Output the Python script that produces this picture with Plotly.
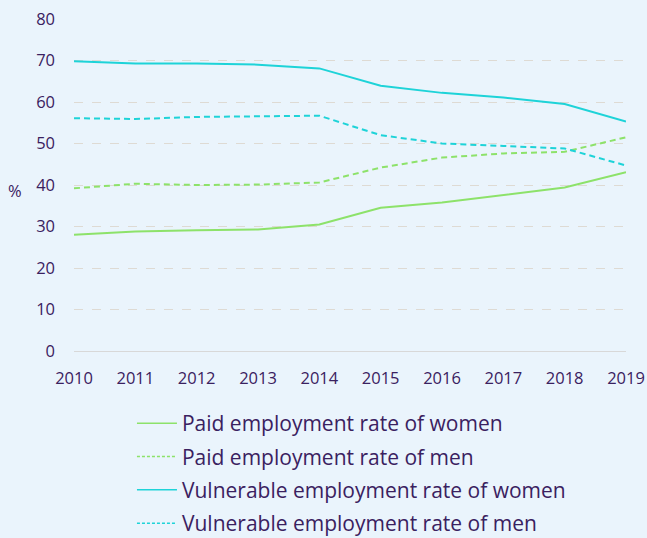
import plotly.graph_objects as go

years = [2010, 2011, 2012, 2013, 2014, 2015, 2016, 2017, 2018, 2019]
paid_women = [28.0, 28.8, 29.1, 29.3, 30.5, 34.5, 35.8, 37.6, 39.4, 43.1]
paid_men = [39.2, 40.3, 40.0, 40.1, 40.6, 44.2, 46.6, 47.6, 48.0, 51.5]
vuln_women = [69.8, 69.3, 69.3, 69.0, 68.1, 63.9, 62.2, 61.1, 59.5, 55.3]
vuln_men = [56.1, 55.9, 56.4, 56.6, 56.7, 52.0, 50.0, 49.4, 48.8, 44.7]
y_ticks = [0, 10, 20, 30, 40, 50, 60, 70, 80]

names = [
    "Paid employment rate of women",
    "Paid employment rate of men",
    "Vulnerable employment rate of women",
    "Vulnerable employment rate of men",
]

GREEN = "#8DE26A"
CYAN = "#1ED3D8"
TEXT = "#3A2160"
BG = "#EAF4FC"

fig = go.Figure()
series = [
    (paid_women, GREEN, False),
    (paid_men, GREEN, True),
    (vuln_women, CYAN, False),
    (vuln_men, CYAN, True),
]
for (vals, col, dashed), name in zip(series, names):
    fig.add_trace(go.Scatter(
        x=years, y=vals, mode="lines", name=name, showlegend=False,
        line=dict(color=col, width=2, dash="6px,4px" if dashed else "solid"),
    ))
# legend keys (finer dash, as in the reference legend)
for i, ((vals, col, dashed), name) in enumerate(zip(series, names)):
    fig.add_trace(go.Scatter(
        x=[None], y=[None], mode="lines", name=name, legendgroup=f"g{i}",
        line=dict(color=col, width=1.5, dash="3px,2px" if dashed else "solid"),
    ))

fig.update_layout(
    width=647, height=538,
    paper_bgcolor=BG, plot_bgcolor=BG,
    margin=dict(l=74, r=21, t=19, b=187, autoexpand=False),
    font=dict(family="Open Sans", color=TEXT, size=16.5),
    showlegend=True,
    legend=dict(
        x=0.105, y=-0.157, xanchor="left", yanchor="top",
        orientation="v", traceorder="grouped",
        font=dict(size=21, color=TEXT),
        bgcolor="rgba(0,0,0,0)", tracegroupgap=3,
        itemwidth=40,
    ),
)
fig.update_xaxes(
    range=[2010, 2019], tickvals=years, ticktext=[str(y) for y in years],
    showgrid=False, zeroline=False, showline=False, automargin=False,
    ticks="", ticklabelstandoff=15, tickfont=dict(size=16.5, color=TEXT),
)
fig.update_yaxes(
    range=[0, 80], tickvals=y_ticks, automargin=False,
    showgrid=True, gridcolor="#DEDAD3", griddash="dash", gridwidth=1,
    zeroline=True, zerolinecolor="#D8D8D8", zerolinewidth=1,
    showline=False, ticks="", ticklabelstandoff=18,
    tickfont=dict(size=16.5, color=TEXT),
)
fig.add_annotation(
    text="%", xref="paper", yref="paper", x=-0.107, y=(351 - 190) / 332.0,
    xanchor="center", yanchor="middle", showarrow=False,
    font=dict(size=16.5, color=TEXT),
)
fig.write_html("out.html", config={"displayModeBar": False},
               post_script="document.body.style.margin='0px';")
